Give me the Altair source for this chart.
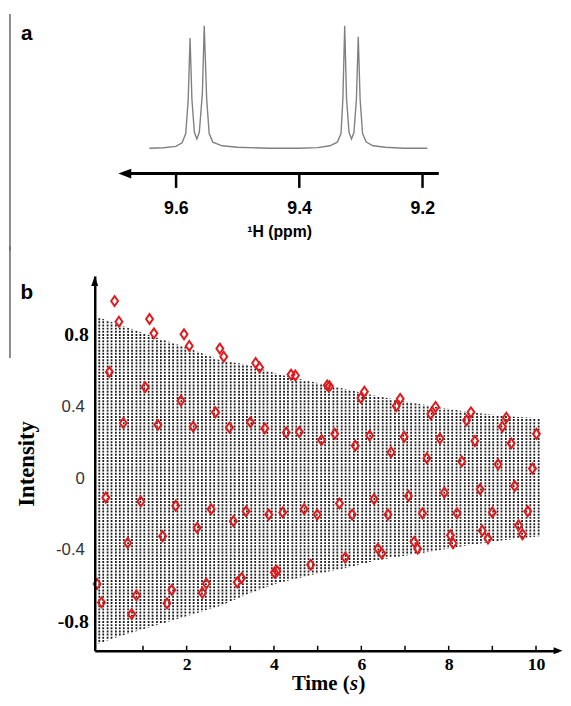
import altair as alt
import pandas as pd

# ---------------- Panel a : 1H spectrum ----------------
ppm = [9.643, 9.620, 9.600, 9.590, 9.584, 9.580, 9.577, 9.574, 9.570, 9.566, 9.562,
       9.557, 9.554, 9.550, 9.546, 9.540, 9.525, 9.500, 9.450, 9.400, 9.370, 9.350,
       9.338, 9.332, 9.329, 9.326, 9.323, 9.319, 9.315, 9.311, 9.307, 9.304, 9.301,
       9.297, 9.291, 9.280, 9.260, 9.230, 9.192]
intensity = [0.000, 0.004, 0.015, 0.045, 0.12, 0.40, 0.90, 0.40, 0.13, 0.075, 0.13,
             0.45, 1.00, 0.40, 0.12, 0.05, 0.02, 0.008, 0.000, 0.000, 0.005, 0.02,
             0.05, 0.12, 0.40, 1.00, 0.40, 0.13, 0.075, 0.13, 0.40, 0.91, 0.40,
             0.12, 0.05, 0.02, 0.008, 0.000, 0.000]
ppm_ticks = [9.6, 9.4, 9.2]
ppm_arrow = [9.6933, 9.1733]   # arrow tip, right end of the ppm axis

# ---------------- Panel b : FID ----------------
fid_times = [0.00, 0.09, 0.19, 0.28, 0.38, 0.47, 0.56, 0.66, 0.75, 0.85, 0.94, 1.03,
             1.13, 1.22, 1.32, 1.41, 1.50, 1.60, 1.69, 1.79, 1.88, 1.97, 2.07, 2.16,
             2.26, 2.35, 2.44, 2.54, 2.63, 2.73, 2.82, 2.91, 3.01, 3.10, 3.20, 3.29,
             3.38, 3.48, 3.57, 3.67, 3.76, 3.85, 3.95, 4.04, 4.14, 4.23, 4.32, 4.42,
             4.51, 4.61, 4.70, 4.79, 4.89, 4.98, 5.08, 5.17, 5.26, 5.36, 5.45, 5.55,
             5.64, 5.73, 5.83, 5.92, 6.02, 6.11, 6.20, 6.30, 6.39, 6.49, 6.58, 6.67,
             6.77, 6.86, 6.96, 7.05, 7.14, 7.24, 7.33, 7.43, 7.52, 7.61, 7.71, 7.80,
             7.90, 7.99, 8.08, 8.18, 8.27, 8.37, 8.46, 8.55, 8.65, 8.74, 8.84, 8.93,
             9.02, 9.12, 9.21, 9.31, 9.40, 9.49, 9.59, 9.68, 9.78, 9.87, 9.96, 10.06]
fid_low, fid_high = -0.945, 0.95
env_t = [-0.03, 0.50, 1.27, 2.02, 2.77, 3.40, 4.12, 4.88, 5.63, 6.38, 7.00, 7.74,
         8.49, 9.24, 10.13]
env_top = [0.90, 0.855, 0.79, 0.73, 0.66, 0.635, 0.58, 0.54, 0.50, 0.46, 0.43, 0.40,
           0.37, 0.35, 0.335]
env_bottom = [-0.92, -0.875, -0.82, -0.765, -0.71, -0.643, -0.58, -0.535, -0.50,
              -0.453, -0.43, -0.40, -0.37, -0.343, -0.32]

pts_t = [0.35, 0.45, 1.15, 1.25, 1.94, 2.06, 2.76, 2.85, 3.58, 3.67, 4.39, 4.49,
         5.22, 5.27, 6.07, 5.99, 6.89, 6.80, 7.70, 7.59, 8.51, 8.41, 9.32, 9.23,
         0.23, 1.05, 1.87, 2.66, 3.46, 4.28, 5.09, 5.86, 6.68, 7.50, 8.30, 9.13, 9.92,
         0.55, 1.34, 2.15, 2.98, 3.79, 4.58, 5.39, 6.19, 6.98, 7.80, 8.60, 9.43, 10.01,
         0.15, 0.95, 1.75, 2.56, 3.36, 4.20, 4.69, 5.50, 6.29, 7.08, 7.90, 8.72, 9.51,
         0.65, 1.45, 2.24, 3.07, 3.88, 4.99, 5.79, 6.61, 7.40, 8.19, 9.00, 9.81,
         -0.05, 0.05, 0.74, 0.85, 1.55, 1.66, 2.36, 2.45, 3.16, 3.26, 4.01, 4.07,
         4.84, 5.63, 6.38, 6.47, 7.21, 7.29, 8.04, 8.10, 8.77, 8.90, 9.60, 9.69]
pts_v = [0.99, 0.875, 0.89, 0.81, 0.805, 0.74, 0.725, 0.68, 0.645, 0.62, 0.58, 0.575,
         0.52, 0.515, 0.485, 0.45, 0.445, 0.405, 0.40, 0.36, 0.37, 0.325, 0.34, 0.29,
         0.595, 0.51, 0.435, 0.37, 0.315, 0.257, 0.215, 0.184, 0.147, 0.114, 0.096, 0.08, 0.056,
         0.31, 0.30, 0.29, 0.285, 0.28, 0.26, 0.25, 0.24, 0.233, 0.224, 0.21, 0.197, 0.25,
         -0.105, -0.127, -0.151, -0.17, -0.182, -0.188, -0.17, -0.138, -0.114, -0.096, -0.078, -0.059, -0.041,
         -0.358, -0.321, -0.274, -0.237, -0.20, -0.20, -0.20, -0.20, -0.193, -0.193, -0.188, -0.182,
         -0.587, -0.69, -0.755, -0.65, -0.695, -0.62, -0.636, -0.585, -0.578, -0.554, -0.523, -0.515,
         -0.48, -0.44, -0.39, -0.417, -0.352, -0.39, -0.316, -0.36, -0.29, -0.334, -0.26, -0.31]
time_ticks = [1, 2, 3, 4, 5, 6, 7, 8, 9, 10]
time_labels = [2, 4, 6, 8, 10]
big_labels = [0.8, -0.8]
big_label_text = ["0.8", "-0.8"]
small_labels = [0.4, 0, -0.4]
small_label_text = ["0.4", "0", "-0.4"]

# ---------------- layout constants ----------------
W = 470
HA, HB = 162, 380
XA_DOM = [8.9797, 9.7317]
YA_DOM = [-0.2068, 1.0966]
XB_DOM = [-0.104, 10.505]
YB_DOM = [-0.959, 1.129]
RED = "#e31a1c"
one = pd.DataFrame({"k": [0]})

# ======== panel a ========
xa_scale = alt.Scale(domain=XA_DOM, reverse=True, nice=False, zero=False)
ya_scale = alt.Scale(domain=YA_DOM, nice=False, zero=False)
xa_axis = alt.Axis(values=ppm_ticks, format=".1f", domain=False, grid=False,
                   ticks=True, tickSize=14, tickWidth=2.5, tickColor="black",
                   labelFont="Liberation Sans", labelFontWeight="bold",
                   labelFontSize=18, labelColor="black", labelPadding=12,
                   labelFlush=False, title="¹H (ppm)", titleFont="Liberation Sans",
                   titleFontWeight="bold", titleFontSize=16, titleColor="black",
                   titleX=187, titleY=59, titleAlign="center",
                   titleBaseline="middle")

spec = alt.Chart(pd.DataFrame({"ppm": ppm, "I": intensity})).mark_line(
    color="#808080", strokeWidth=1.4).encode(
    x=alt.X("ppm:Q", scale=xa_scale, axis=xa_axis),
    y=alt.Y("I:Q", scale=ya_scale, axis=None))

arrow_a = alt.Chart(pd.DataFrame({"ppm": [ppm_arrow[0] - 0.01], "ppm2": [ppm_arrow[1]],
                                  "I": [YA_DOM[0]]})).mark_rule(
    color="black", strokeWidth=3).encode(x="ppm:Q", x2="ppm2:Q", y="I:Q")
head_a = alt.Chart(pd.DataFrame({"ppm": [ppm_arrow[0]], "I": [YA_DOM[0]]})).mark_point(
    shape="M-1,0L1,-0.77L1,0.77Z", size=169, filled=True, color="black",
    opacity=1, xOffset=6.5).encode(x="ppm:Q", y="I:Q")

sep_a = alt.Chart(one).mark_rule(color="#666666", strokeWidth=1.5).encode(
    x=alt.value(-86), y=alt.value(0), y2=alt.value(240))
lab_a = alt.Chart(one).mark_text(text="a", font="Liberation Sans", fontWeight="bold",
                                 fontSize=21, align="center", baseline="middle",
                                 color="black").encode(x=alt.value(-69), y=alt.value(20))

panel_a = alt.layer(sep_a, spec, arrow_a, head_a, lab_a).properties(width=W, height=HA)

# ======== panel b ========
xb_scale = alt.Scale(domain=XB_DOM, nice=False, zero=False)
yb_scale = alt.Scale(domain=YB_DOM, nice=False, zero=False)
xb_axis = alt.Axis(values=time_labels, format="d", ticks=False, tickSize=0,
                   domain=True, domainWidth=2.5, domainColor="black", grid=False,
                   labelFont="Liberation Serif", labelFontWeight="bold",
                   labelFontSize=18, labelColor="black", labelPadding=5,
                   labelFlush=False, title="", zindex=1)
yb_axis = alt.Axis(values=[0], labels=False, ticks=False, tickSize=0, domain=True,
                   domainWidth=2.5, domainColor="black", grid=False,
                   title="Intensity", titleFont="Liberation Serif",
                   titleFontWeight="bold", titleFontSize=23, titleColor="black",
                   titleX=-69, titleY=190, titleAngle=270, titleAlign="center",
                   titleBaseline="middle", zindex=1)

rules = alt.Chart(pd.DataFrame({"t": fid_times, "v": fid_low, "v2": fid_high})).mark_rule(
    color="#1e1e1e", strokeWidth=1.8, strokeDash=[2, 1.2]).encode(
    x=alt.X("t:Q", scale=xb_scale, axis=xb_axis),
    y=alt.Y("v:Q", scale=yb_scale, axis=yb_axis), y2="v2:Q")

mask_top = alt.Chart(pd.DataFrame({"t": env_t, "v": env_top, "v2": YB_DOM[1]})).mark_area(
    color="white", opacity=1).encode(x="t:Q", y="v:Q", y2="v2:Q")
mask_bot = alt.Chart(pd.DataFrame({"t": env_t, "v": env_bottom, "v2": YB_DOM[0]})).mark_area(
    color="white", opacity=1).encode(x="t:Q", y="v:Q", y2="v2:Q")

ticks_b = alt.Chart(pd.DataFrame({"t": time_ticks, "v": YB_DOM[0]})).mark_rule(
    color="black", strokeWidth=1.5).encode(x="t:Q", y="v:Q", y2=alt.value(HB - 5))

pts = alt.Chart(pd.DataFrame({"t": pts_t, "v": pts_v})).mark_point(
    shape="M0,-1L0.7,0L0,1L-0.7,0Z", size=100, filled=False, color=RED,
    strokeWidth=2, opacity=1).encode(x="t:Q", y="v:Q")

head_x = alt.Chart(pd.DataFrame({"t": [XB_DOM[1]], "v": [YB_DOM[0]]})).mark_point(
    shape="M1,0L-1,-0.78L-1,0.78Z", size=81, filled=True, color="black",
    opacity=1).encode(x="t:Q", y="v:Q")
head_y = alt.Chart(pd.DataFrame({"t": [XB_DOM[0]], "v": [YB_DOM[1]]})).mark_point(
    shape="M0,-1L0.7,1L-0.7,1Z", size=100, filled=True, color="black",
    opacity=1, yOffset=5).encode(x="t:Q", y="v:Q")

ylab_big = alt.Chart(pd.DataFrame({"v": big_labels, "txt": big_label_text})).mark_text(
    font="Liberation Serif", fontWeight="bold", fontSize=20, align="right",
    baseline="middle", color="black").encode(x=alt.value(-6), y="v:Q", text="txt:N")
ylab_small = alt.Chart(pd.DataFrame({"v": small_labels, "txt": small_label_text})).mark_text(
    font="Liberation Sans", fontSize=17, align="right", baseline="middle",
    color="#333333").encode(x=alt.value(-10), y="v:Q", text="txt:N")

# x-axis title "Time (s)" with an italic s
title_kw = dict(font="Liberation Serif", fontWeight="bold", fontSize=21,
                align="left", baseline="alphabetic", color="black")
t_time = alt.Chart(one).mark_text(text="Time (", **title_kw).encode(
    x=alt.value(200), y=alt.value(420))
t_s = alt.Chart(one).mark_text(text="s", fontStyle="italic", **title_kw).encode(
    x=alt.value(259), y=alt.value(420))
t_close = alt.Chart(one).mark_text(text=")", **title_kw).encode(
    x=alt.value(267.5), y=alt.value(420))

sep_b = alt.Chart(one).mark_rule(color="#666666", strokeWidth=1.5).encode(
    x=alt.value(-86), y=alt.value(-30), y2=alt.value(83))
lab_b = alt.Chart(one).mark_text(text="b", font="Liberation Sans", fontWeight="bold",
                                 fontSize=21, align="center", baseline="middle",
                                 color="black").encode(x=alt.value(-69), y=alt.value(17))

panel_b = alt.layer(rules, mask_top, mask_bot, ticks_b, pts, head_x, head_y,
                    ylab_big, ylab_small, t_time, t_s, t_close,
                    sep_b, lab_b).properties(width=W, height=HB)

chart = alt.vconcat(panel_a, panel_b, spacing=-6).properties(
    padding={"left": 1, "top": 0, "right": 0, "bottom": 0}
).configure_view(stroke=None)

chart.save("out.html", embed_options={"renderer": "svg", "actions": False})
